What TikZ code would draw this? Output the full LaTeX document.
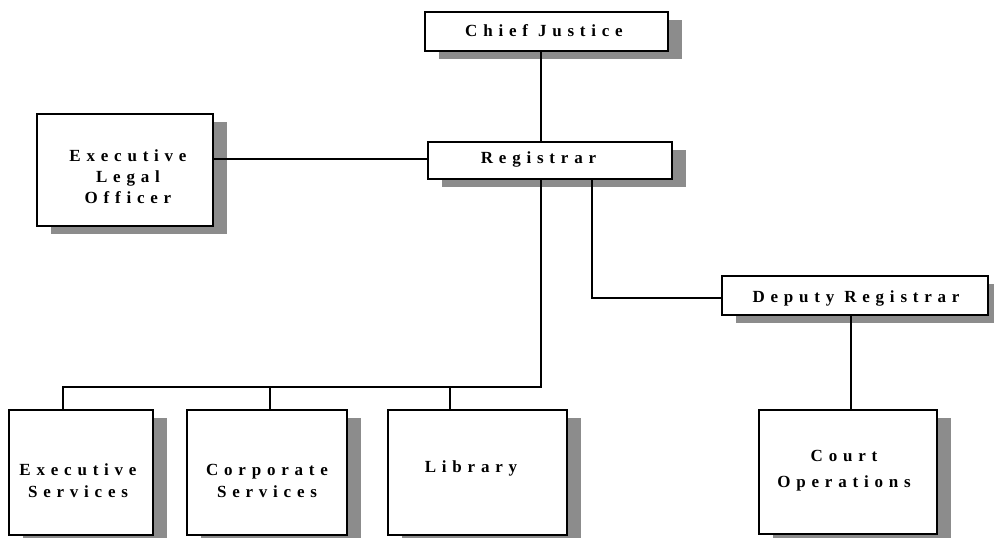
\documentclass[tikz,border=0pt]{standalone}
\usepackage{fontspec}
\setmainfont{Liberation Serif}
\newfontfamily\spacedfont[LetterSpace=34]{Liberation Serif}
\usetikzlibrary{shadows}
\definecolor{shadowgray}{RGB}{140,140,140}
\tikzset{
  box/.style={draw=black, line width=2pt, fill=white, inner sep=0pt,
    drop shadow={shadow xshift=14pt, shadow yshift=-8pt, fill=shadowgray, opacity=1}},
  lbl/.style={font=\spacedfont\bfseries\fontsize{17}{21}\selectfont, align=center, inner sep=0pt},
  conn/.style={line width=2pt}
}
\begin{document}
\begin{tikzpicture}[x=1pt,y=-1pt]
\useasboundingbox (0,0) rectangle (994,538);
% boxes
\node[box, minimum width=243pt, minimum height=39pt] (cj) at (546.5,31.5) {};
\node[box, minimum width=244pt, minimum height=37pt] (reg) at (550,160.5) {};
\node[box, minimum width=176pt, minimum height=112pt] (elo) at (125,170) {};
\node[box, minimum width=266pt, minimum height=39pt] (dr) at (855,295.5) {};
\node[box, minimum width=144pt, minimum height=125pt] (es) at (81,472.5) {};
\node[box, minimum width=160pt, minimum height=125pt] (cs) at (267,472.5) {};
\node[box, minimum width=179pt, minimum height=125pt] (lib) at (477.5,472.5) {};
\node[box, minimum width=178pt, minimum height=124pt] (co) at (848,472) {};
% labels
\node[lbl] (tcj) at (544,31) {Chief Justice};
\node[lbl] (treg) at (538.5,159) {Registrar};
\node[lbl] (telo) at (128,177) {Executive\\Legal\\Officer};
\node[lbl] (tdr) at (856,298.5) {Deputy Registrar};
\node[lbl, font=\spacedfont\bfseries\fontsize{17}{22}\selectfont] (tes) at (78,480.5) {Executive\\Services};
\node[lbl, font=\spacedfont\bfseries\fontsize{17}{22}\selectfont] (tcs) at (267,480.5) {Corporate\\Services};
\node[lbl] (tlib) at (471,468) {Library};
\node[lbl, font=\spacedfont\bfseries\fontsize{17}{26}\selectfont] (tco) at (844,470.5) {Court\\Operations};
% connector guides
\coordinate (trunk) at (541,0);
\coordinate (branch) at (592,0);
\coordinate (bus) at (0,387);
\coordinate (eloY) at (0,159);
\coordinate (drY) at (0,298);
\coordinate (dES) at (63,0);
\coordinate (dCS) at (270,0);
\coordinate (dLIB) at (450,0);
\coordinate (dCO) at (851,0);
% connectors
\draw[conn] (cj.south -| trunk) -- (reg.north -| trunk);
\draw[conn] (reg.west |- eloY) -- (elo.east |- eloY);
\draw[conn] (reg.south -| trunk) |- (bus -| dES) -- (es.north -| dES);
\draw[conn] (bus -| dCS) -- (cs.north -| dCS);
\draw[conn] (bus -| dLIB) -- (lib.north -| dLIB);
\draw[conn] (reg.south -| branch) |- (dr.west |- drY);
\draw[conn] (dr.south -| dCO) -- (co.north -| dCO);
\end{tikzpicture}
\end{document}
